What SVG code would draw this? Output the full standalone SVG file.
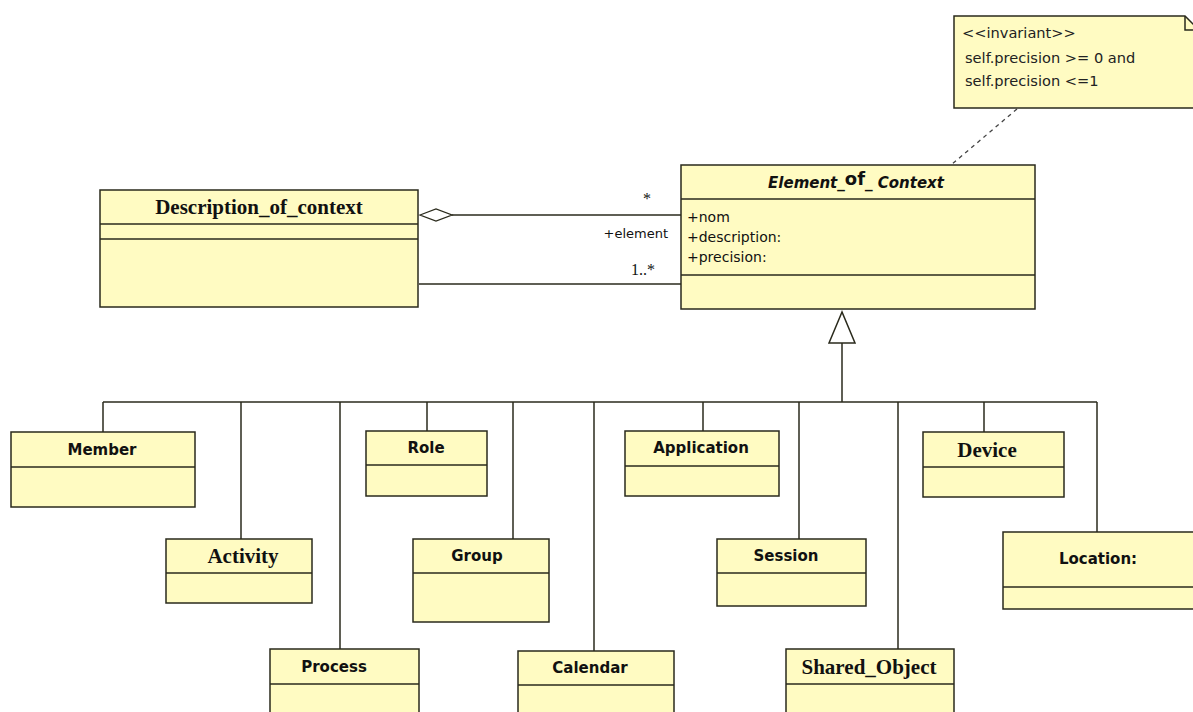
<svg xmlns="http://www.w3.org/2000/svg" width="1193" height="712" viewBox="0 0 1193 712">
<style>
.box{fill:#FFFBC2;stroke:#2a2a1c;stroke-width:1.5}
.sep{stroke:#2a2a1c;stroke-width:1.5;fill:none}
.ln{stroke:#2a2a1c;stroke-width:1.5;fill:none}
.dash{stroke:#444;stroke-width:1.3;fill:none;stroke-dasharray:4 4}
.ts{font-family:"DejaVu Sans",sans-serif;font-weight:bold;font-size:15px;fill:#111;text-anchor:middle}
.tr{font-family:"Liberation Serif","Times New Roman",serif;font-weight:bold;font-size:21px;fill:#111;text-anchor:middle}
.attr{font-family:"DejaVu Sans",sans-serif;font-size:14px;fill:#111}
.lbl{font-family:"DejaVu Sans",sans-serif;font-size:13px;fill:#111}
.lbs{font-family:"Liberation Serif","Times New Roman",serif;font-size:16px;fill:#111}
.note{font-family:"DejaVu Sans",sans-serif;font-size:14.6px;fill:#222}
</style>
<rect width="1193" height="712" fill="#ffffff"/>

<g id="connectors">
  <!-- aggregation -->
  <polygon points="420,215 436,209 452,215 436,221" fill="#ffffff" stroke="#2a2a1c" stroke-width="1.3"/>
  <line class="ln" x1="452" y1="215" x2="681" y2="215"/>
  <line class="ln" x1="419" y1="284" x2="681" y2="284"/>
  <!-- note anchor -->
  <line class="dash" x1="1017" y1="109" x2="951" y2="165"/>
  <!-- generalization -->
  <polygon points="842,312 829,343 855,343" fill="#ffffff" stroke="#2a2a1c" stroke-width="1.5"/>
  <line class="ln" x1="842" y1="343" x2="842" y2="402"/>
  <line class="ln" x1="103" y1="402" x2="1097" y2="402"/>
  <line class="ln" x1="103" y1="402" x2="103" y2="432"/>
  <line class="ln" x1="241" y1="402" x2="241" y2="539"/>
  <line class="ln" x1="340" y1="402" x2="340" y2="649"/>
  <line class="ln" x1="427" y1="402" x2="427" y2="431"/>
  <line class="ln" x1="513" y1="402" x2="513" y2="539"/>
  <line class="ln" x1="594" y1="402" x2="594" y2="651"/>
  <line class="ln" x1="703" y1="402" x2="703" y2="431"/>
  <line class="ln" x1="799" y1="402" x2="799" y2="539"/>
  <line class="ln" x1="898" y1="402" x2="898" y2="649"/>
  <line class="ln" x1="984" y1="402" x2="984" y2="432"/>
  <line class="ln" x1="1097" y1="402" x2="1097" y2="532"/>
  <!-- labels -->
  <text class="lbs" x="643" y="204">*</text>
  <text class="lbl" x="668" y="238" text-anchor="end">+element</text>
  <text class="lbs" x="631" y="275">1..*</text>
</g>

<g id="note">
  <path class="box" d="M954,16 H1185 L1199,30 V108 H954 Z"/>
  <path class="sep" d="M1185,16 V30 H1199"/>
  <text class="note" x="962" y="38">&lt;&lt;invariant&gt;&gt;</text>
  <text class="note" x="965" y="63">self.precision &gt;= 0 and</text>
  <text class="note" x="965" y="86">self.precision &lt;=1</text>
</g>

<g id="Description_of_context">
  <rect class="box" x="100" y="190" width="318" height="117"/>
  <line class="sep" x1="100" y1="224" x2="418" y2="224"/>
  <line class="sep" x1="100" y1="239" x2="418" y2="239"/>
  <text class="tr" x="259" y="214">Description_of_context</text>
</g>

<g id="Element_of_Context">
  <rect class="box" x="681" y="165" width="354" height="144"/>
  <line class="sep" x1="681" y1="199" x2="1035" y2="199"/>
  <line class="sep" x1="681" y1="275" x2="1035" y2="275"/>
  <text x="856" y="188" text-anchor="middle" style="font-family:'DejaVu Sans',sans-serif;font-weight:bold;font-style:italic;font-size:15px;fill:#111">Element_<tspan style="font-style:normal;font-size:18px" dy="-3">of</tspan><tspan dy="3">_ Context</tspan></text>
  <text class="attr" x="687" y="222">+nom</text>
  <text class="attr" x="687" y="242">+description:</text>
  <text class="attr" x="687" y="262">+precision:</text>
</g>

<g id="Member">
  <rect class="box" x="11" y="432" width="184" height="75"/>
  <line class="sep" x1="11" y1="467" x2="195" y2="467"/>
  <text class="ts" x="102" y="455">Member</text>
</g>

<g id="Activity">
  <rect class="box" x="166" y="539" width="146" height="64"/>
  <line class="sep" x1="166" y1="573" x2="312" y2="573"/>
  <text class="tr" x="243" y="563">Activity</text>
</g>

<g id="Process">
  <rect class="box" x="270" y="649" width="149" height="70"/>
  <line class="sep" x1="270" y1="684" x2="419" y2="684"/>
  <text class="ts" x="334" y="672">Process</text>
</g>

<g id="Role">
  <rect class="box" x="366" y="431" width="121" height="65"/>
  <line class="sep" x1="366" y1="465" x2="487" y2="465"/>
  <text class="ts" x="426" y="453">Role</text>
</g>

<g id="Group">
  <rect class="box" x="413" y="539" width="136" height="83"/>
  <line class="sep" x1="413" y1="573" x2="549" y2="573"/>
  <text class="ts" x="477" y="561">Group</text>
</g>

<g id="Calendar">
  <rect class="box" x="518" y="651" width="156" height="70"/>
  <line class="sep" x1="518" y1="685" x2="674" y2="685"/>
  <text class="ts" x="590" y="673">Calendar</text>
</g>

<g id="Application">
  <rect class="box" x="625" y="431" width="154" height="65"/>
  <line class="sep" x1="625" y1="466" x2="779" y2="466"/>
  <text class="ts" x="701" y="453">Application</text>
</g>

<g id="Session">
  <rect class="box" x="717" y="539" width="149" height="67"/>
  <line class="sep" x1="717" y1="573" x2="866" y2="573"/>
  <text class="ts" x="786" y="561">Session</text>
</g>

<g id="Shared_Object">
  <rect class="box" x="786" y="649" width="168" height="70"/>
  <line class="sep" x1="786" y1="684" x2="954" y2="684"/>
  <text class="tr" x="869" y="674">Shared_Object</text>
</g>

<g id="Device">
  <rect class="box" x="923" y="432" width="141" height="65"/>
  <line class="sep" x1="923" y1="467" x2="1064" y2="467"/>
  <text class="tr" x="987" y="457">Device</text>
</g>

<g id="Location">
  <rect class="box" x="1003" y="532" width="195" height="77"/>
  <line class="sep" x1="1003" y1="587" x2="1198" y2="587"/>
  <text class="ts" x="1098" y="564">Location:</text>
</g>
</svg>
